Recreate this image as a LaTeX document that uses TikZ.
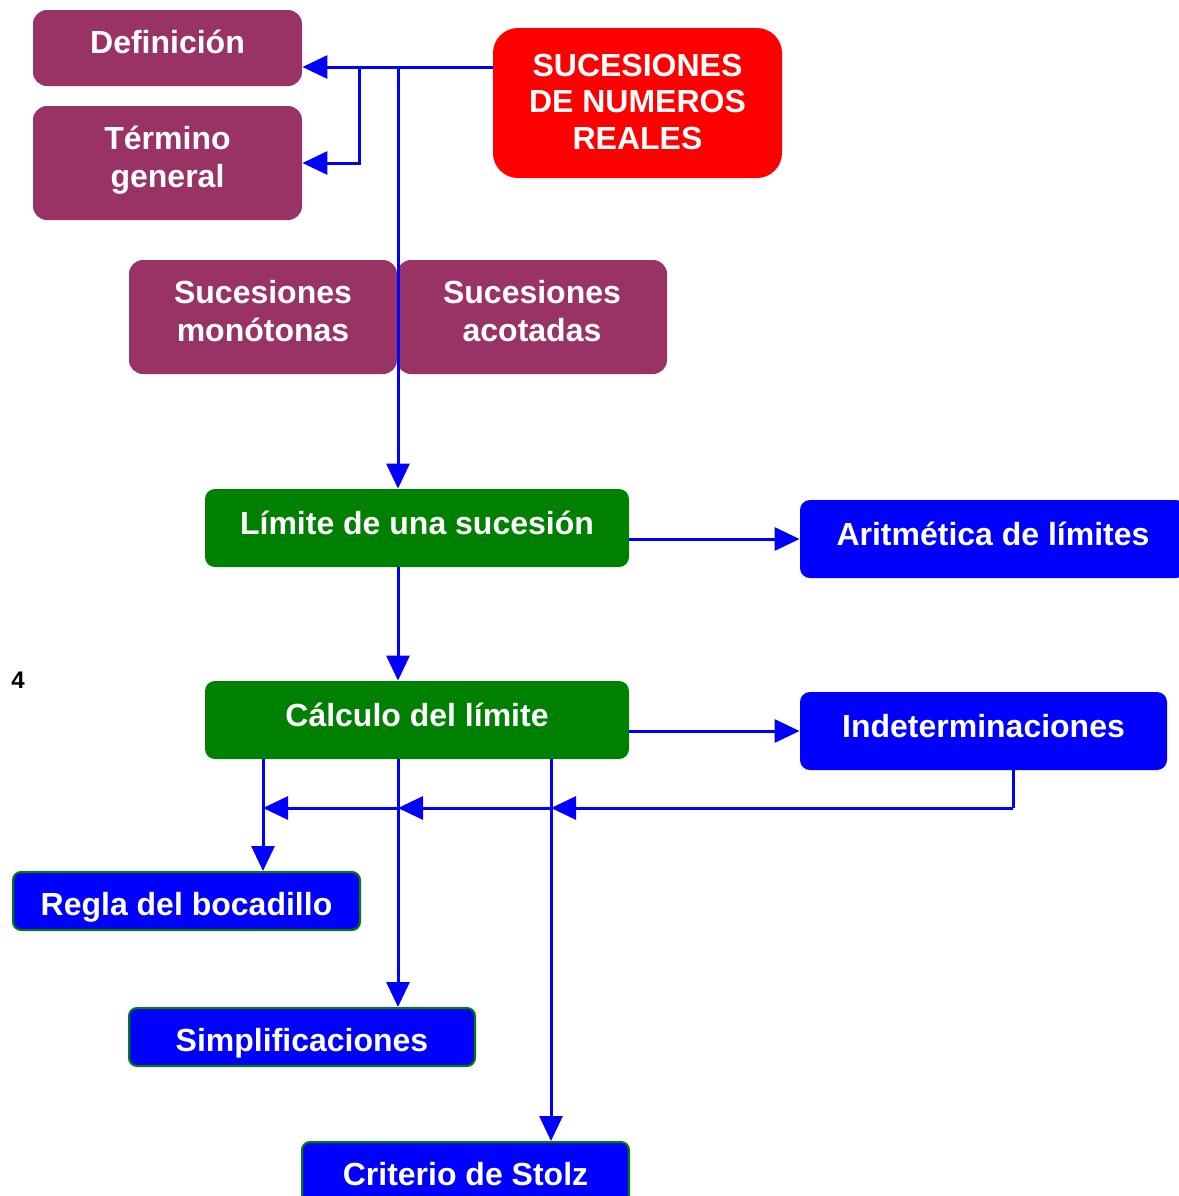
\documentclass[tikz,border=0pt]{standalone}
\usepackage{fontspec}
\setmainfont{Liberation Sans}
\usetikzlibrary{arrows.meta}
\definecolor{mypurple}{HTML}{993366}
\definecolor{myred}{HTML}{FF0000}
\definecolor{mygreen}{HTML}{008000}
\definecolor{myblue}{HTML}{0000FF}
\begin{document}
\begin{tikzpicture}[x=0.5pt,y=-0.5pt,
  base/.style={inner sep=0pt},
  lbl/.style={text=white, align=center, inner sep=0pt,
    font=\bfseries\fontsize{16pt}{18.8pt}\selectfont},
  rlbl/.style={lbl, font=\bfseries\fontsize{16pt}{18.3pt}\selectfont},
  pbox/.style={base, fill=mypurple, rounded corners=7pt},
  rbox/.style={base, fill=myred, rounded corners=12.5pt},
  gbox/.style={base, fill=mygreen, rounded corners=5pt},
  bbox/.style={base, fill=myblue, rounded corners=5pt},
  bgbox/.style={base, fill=myblue, draw=mygreen, line width=1pt, rounded corners=4pt},
  arr/.style={draw=myblue, line width=1.5pt, -{Triangle[length=12.5pt,width=11.5pt]}},
  ln/.style={draw=myblue, line width=1.5pt}]
\useasboundingbox (0,0) rectangle (1179,1196);
\node[pbox, minimum width=134.5pt, minimum height=38pt,
  label={[lbl,yshift=3pt]center:Definición}] (def) at (167.5,48) {};
\node[pbox, minimum width=134.5pt, minimum height=57pt,
  label={[lbl,yshift=1.3pt]center:Término\\general}] (term) at (167.5,163) {};
\node[rbox, minimum width=144.5pt, minimum height=75pt,
  label={[rlbl,yshift=0.7pt]center:SUCESIONES\\DE NUMEROS\\REALES}] (suc) at (637.5,103) {};
\node[pbox, minimum width=134pt, minimum height=57pt,
  label={[lbl,yshift=3pt]center:Sucesiones\\monótonas}] (mono) at (263,317) {};
\node[pbox, minimum width=135pt, minimum height=57pt,
  label={[lbl,yshift=3pt]center:Sucesiones\\acotadas}] (acot) at (532,317) {};
\node[gbox, minimum width=212pt, minimum height=39pt,
  label={[lbl,yshift=2.5pt]center:Límite de una sucesión}] (lim) at (417,528) {};
\node[bbox, minimum width=193pt, minimum height=39pt,
  label={[lbl,yshift=2.5pt]center:Aritmética de límites}] (arit) at (993,539) {};
\node[gbox, minimum width=212pt, minimum height=39pt,
  label={[lbl,yshift=2.5pt]center:Cálculo del límite}] (calc) at (417,720) {};
\node[bbox, minimum width=183.5pt, minimum height=39pt,
  label={[lbl,yshift=2.5pt]center:Indeterminaciones}] (indet) at (983.5,731) {};
\node[bgbox, minimum width=173.5pt, minimum height=29pt,
  label={[lbl,yshift=-3pt]center:Regla del bocadillo}] (regla) at (186.5,901) {};
\node[bgbox, minimum width=173pt, minimum height=29pt,
  label={[lbl,yshift=-3pt]center:Simplificaciones}] (simp) at (302,1037) {};
\node[bgbox, minimum width=163.5pt, minimum height=32pt,
  label={[lbl]center:Criterio de Stolz}] (stolz) at (465.5,1174) {};
\node[font=\bfseries\fontsize{12pt}{14pt}\selectfont, inner sep=0pt] (n4) at (18,680) {4};
\coordinate (y67) at (0,67);
\coordinate (j1) at (359,67);
\coordinate (j2) at (398,67);
\coordinate (bx1) at (263,0);
\coordinate (bx3) at (551,0);
\coordinate (ix) at (1013,808);
\draw[arr] (suc.west |- y67) -- (def.east |- y67);
\draw[arr] (j1) |- (term.east);
\draw[arr] (j2) -- (j2 |- lim.north);
\draw[arr] (lim.east |- arit.west) -- (arit.west);
\draw[arr] (lim.south -| j2) -- (calc.north -| j2);
\draw[arr] (calc.east |- indet.west) -- (indet.west);
\draw[arr] (calc.south -| bx1) -- (regla.north -| bx1);
\draw[arr] (calc.south -| j2) -- (simp.north -| j2);
\draw[arr] (calc.south -| bx3) -- (stolz.north -| bx3);
\draw[ln] (indet.south -| ix) -- (ix);
\draw[arr] (ix) -- (bx3 |- ix);
\draw[arr] (bx3 |- ix) -- (j2 |- ix);
\draw[arr] (j2 |- ix) -- (bx1 |- ix);
\end{tikzpicture}
\end{document}
